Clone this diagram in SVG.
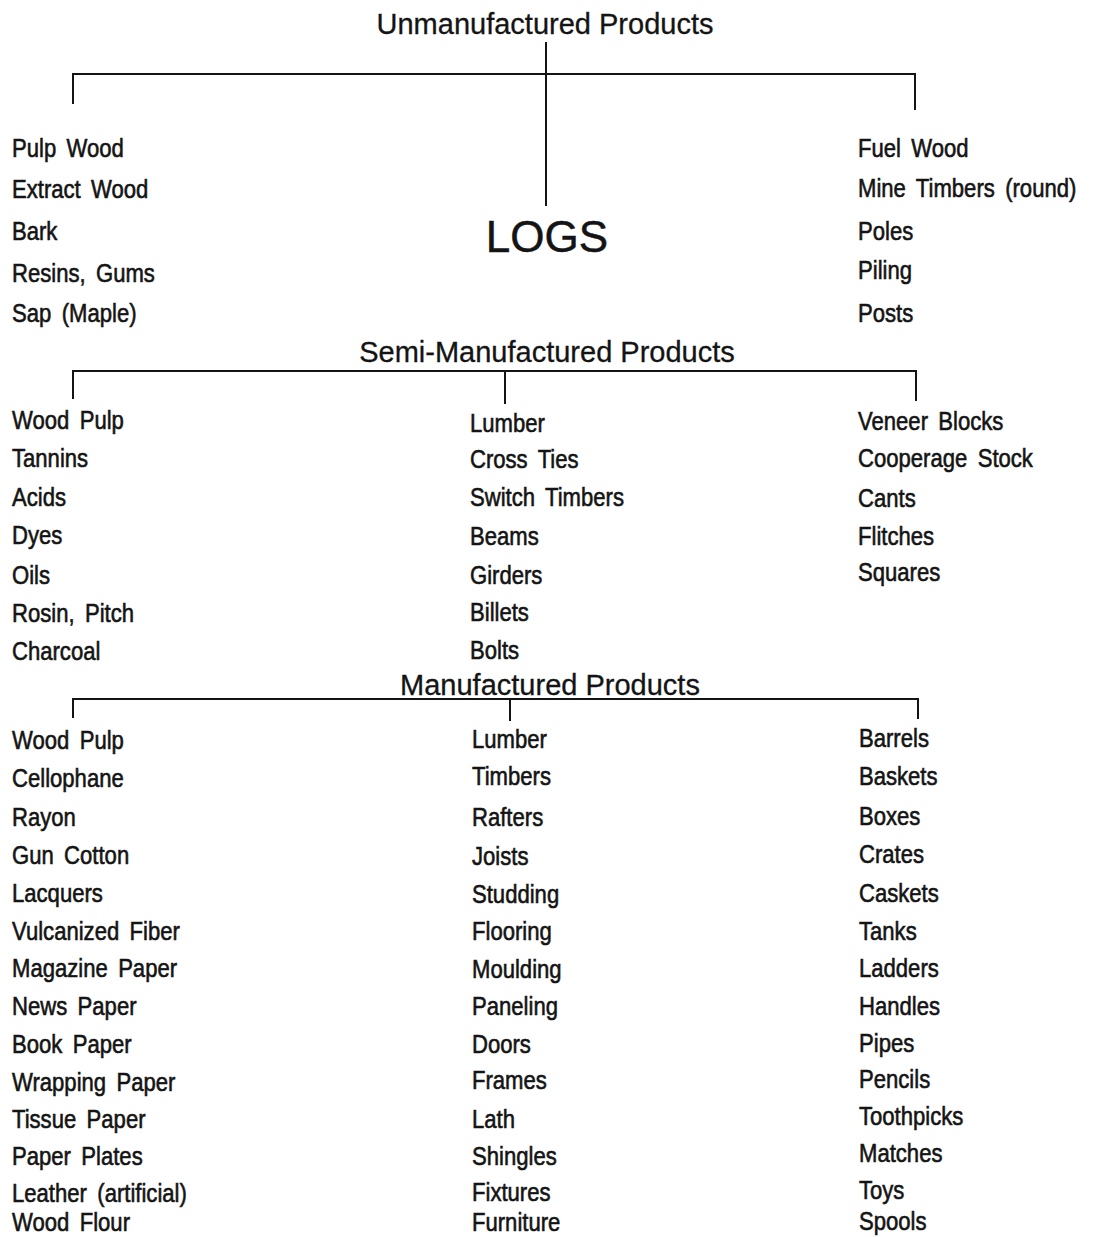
<svg xmlns="http://www.w3.org/2000/svg" width="1097" height="1237" viewBox="0 0 1097 1237">
<style>
.bg{fill:#ffffff}
.ln{stroke:#141414;stroke-width:2;fill:none;stroke-linecap:square}
.title{font-family:"Liberation Sans",Arial,sans-serif;font-size:29px;fill:#141414;stroke:#141414;stroke-width:0.3;text-anchor:middle}
.logs{font-family:"Liberation Sans",Arial,sans-serif;font-size:44px;fill:#141414;stroke:#141414;stroke-width:0.5;text-anchor:middle}
.item{font-family:"Liberation Sans",Arial,sans-serif;font-size:26px;fill:#141414;stroke:#141414;stroke-width:0.6;word-spacing:5px}
</style>
<rect class="bg" x="0" y="0" width="1097" height="1237"/>
<g id="connectors">
  <path class="ln" d="M546 43 V205"/>
  <path class="ln" d="M73 103 V74 H915 V109"/>
  <path class="ln" d="M73 398 V371 H916 V400"/>
  <path class="ln" d="M505 371 V403"/>
  <path class="ln" d="M73 717 V699 H918 V718"/>
  <path class="ln" d="M510 699 V720"/>
</g>
<g id="title-unmanufactured"><text class="title" x="545" y="34">Unmanufactured Products</text></g>
<g id="logs"><text class="logs" x="547" y="252">LOGS</text></g>
<g id="title-semi"><text class="title" x="547" y="362">Semi-Manufactured Products</text></g>
<g id="title-manufactured"><text class="title" x="550" y="695">Manufactured Products</text></g>

<g id="unmfg-left" transform="translate(12 0) scale(0.85 1)">
  <text class="item" x="0" y="157">Pulp Wood</text>
  <text class="item" x="0" y="198">Extract Wood</text>
  <text class="item" x="0" y="240">Bark</text>
  <text class="item" x="0" y="282">Resins, Gums</text>
  <text class="item" x="0" y="322">Sap (Maple)</text>
</g>
<g id="unmfg-right" transform="translate(858 0) scale(0.85 1)">
  <text class="item" x="0" y="157">Fuel Wood</text>
  <text class="item" x="0" y="197">Mine Timbers (round)</text>
  <text class="item" x="0" y="240">Poles</text>
  <text class="item" x="0" y="279">Piling</text>
  <text class="item" x="0" y="322">Posts</text>
</g>

<g id="semi-left" transform="translate(12 0) scale(0.85 1)">
  <text class="item" x="0" y="429">Wood Pulp</text>
  <text class="item" x="0" y="467">Tannins</text>
  <text class="item" x="0" y="506">Acids</text>
  <text class="item" x="0" y="544">Dyes</text>
  <text class="item" x="0" y="584">Oils</text>
  <text class="item" x="0" y="622">Rosin, Pitch</text>
  <text class="item" x="0" y="660">Charcoal</text>
</g>
<g id="semi-middle" transform="translate(470 0) scale(0.85 1)">
  <text class="item" x="0" y="432">Lumber</text>
  <text class="item" x="0" y="468">Cross Ties</text>
  <text class="item" x="0" y="506">Switch Timbers</text>
  <text class="item" x="0" y="545">Beams</text>
  <text class="item" x="0" y="584">Girders</text>
  <text class="item" x="0" y="621">Billets</text>
  <text class="item" x="0" y="659">Bolts</text>
</g>
<g id="semi-right" transform="translate(858 0) scale(0.85 1)">
  <text class="item" x="0" y="430">Veneer Blocks</text>
  <text class="item" x="0" y="467">Cooperage Stock</text>
  <text class="item" x="0" y="507">Cants</text>
  <text class="item" x="0" y="545">Flitches</text>
  <text class="item" x="0" y="581">Squares</text>
</g>

<g id="mfg-left" transform="translate(12 0) scale(0.85 1)">
  <text class="item" x="0" y="749">Wood Pulp</text>
  <text class="item" x="0" y="787">Cellophane</text>
  <text class="item" x="0" y="826">Rayon</text>
  <text class="item" x="0" y="864">Gun Cotton</text>
  <text class="item" x="0" y="902">Lacquers</text>
  <text class="item" x="0" y="940">Vulcanized Fiber</text>
  <text class="item" x="0" y="977">Magazine Paper</text>
  <text class="item" x="0" y="1015">News Paper</text>
  <text class="item" x="0" y="1053">Book Paper</text>
  <text class="item" x="0" y="1091">Wrapping Paper</text>
  <text class="item" x="0" y="1128">Tissue Paper</text>
  <text class="item" x="0" y="1165">Paper Plates</text>
  <text class="item" x="0" y="1202">Leather (artificial)</text>
  <text class="item" x="0" y="1231">Wood Flour</text>
</g>
<g id="mfg-middle" transform="translate(472 0) scale(0.85 1)">
  <text class="item" x="0" y="748">Lumber</text>
  <text class="item" x="0" y="785">Timbers</text>
  <text class="item" x="0" y="826">Rafters</text>
  <text class="item" x="0" y="865">Joists</text>
  <text class="item" x="0" y="903">Studding</text>
  <text class="item" x="0" y="940">Flooring</text>
  <text class="item" x="0" y="978">Moulding</text>
  <text class="item" x="0" y="1015">Paneling</text>
  <text class="item" x="0" y="1053">Doors</text>
  <text class="item" x="0" y="1089">Frames</text>
  <text class="item" x="0" y="1128">Lath</text>
  <text class="item" x="0" y="1165">Shingles</text>
  <text class="item" x="0" y="1201">Fixtures</text>
  <text class="item" x="0" y="1231">Furniture</text>
</g>
<g id="mfg-right" transform="translate(859 0) scale(0.85 1)">
  <text class="item" x="0" y="747">Barrels</text>
  <text class="item" x="0" y="785">Baskets</text>
  <text class="item" x="0" y="825">Boxes</text>
  <text class="item" x="0" y="863">Crates</text>
  <text class="item" x="0" y="902">Caskets</text>
  <text class="item" x="0" y="940">Tanks</text>
  <text class="item" x="0" y="977">Ladders</text>
  <text class="item" x="0" y="1015">Handles</text>
  <text class="item" x="0" y="1052">Pipes</text>
  <text class="item" x="0" y="1088">Pencils</text>
  <text class="item" x="0" y="1125">Toothpicks</text>
  <text class="item" x="0" y="1162">Matches</text>
  <text class="item" x="0" y="1199">Toys</text>
  <text class="item" x="0" y="1230">Spools</text>
</g>
</svg>
